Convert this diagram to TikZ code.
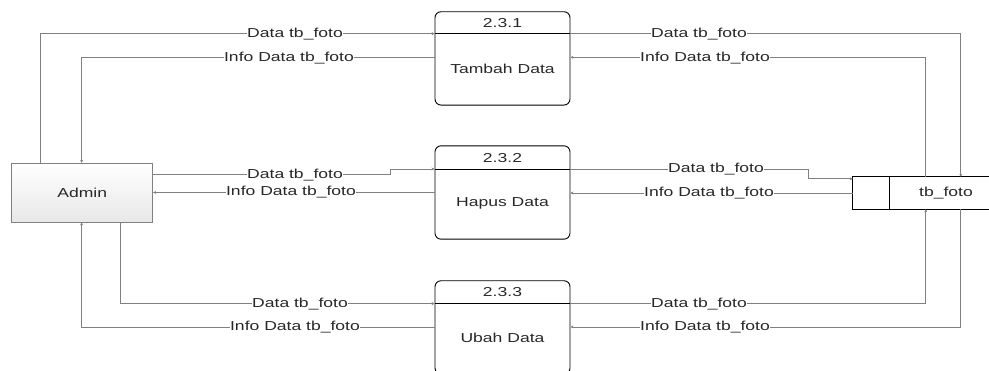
\documentclass[tikz,border=0pt]{standalone}
\usepackage{fontspec}
\setmainfont{Liberation Sans}[FakeStretch=1.35]
\usetikzlibrary{arrows.meta}
\definecolor{linegray}{RGB}{128,128,128}
\definecolor{txtgray}{RGB}{40,40,40}
\tikzset{
  proc/.style={draw=black, line width=0.9pt, rounded corners=6pt, minimum width=135pt, minimum height=93.3pt, inner sep=0pt},
  txt/.style={text=txtgray, font=\fontsize{13}{15}\selectfont, inner sep=0pt},
  lbl/.style={txt, fill=white, inner xsep=0.6pt, inner ysep=1.5pt},
  flow/.style={draw=linegray, line width=0.8pt, -{Stealth[length=3pt,width=3pt]}},
  ent/.style={draw=linegray, line width=0.8pt, top color=white, bottom color=gray!18, minimum width=141pt, minimum height=58.7pt, inner sep=0pt},
}
\begin{document}
\begin{tikzpicture}[x=1pt, y=-1pt]
\useasboundingbox (0,0) rectangle (989,370);
\clip (0,0) rectangle (989,370);

% external entity
\node[ent] (adm) at (82.2,192.6) {};
\node[txt] (admt) at (adm.center) {Admin};

% processes
\node[proc] (p1) at (502.5,58.4) {};
\node[proc] (p2) at (502.5,192.5) {};
\node[proc] (p3) at (502.5,327.4) {};
\draw[line width=0.9pt] ([yshift=-22.3pt]p1.north west) -- ([yshift=-22.3pt]p1.north east);
\draw[line width=0.9pt] ([yshift=-23.6pt]p2.north west) -- ([yshift=-23.6pt]p2.north east);
\draw[line width=0.9pt] ([yshift=-23.3pt]p3.north west) -- ([yshift=-23.3pt]p3.north east);
\node[txt] (p1id) at ([yshift=-11.5pt]p1.north) {2.3.1};
\node[txt] (p2id) at ([yshift=-12.3pt]p2.north) {2.3.2};
\node[txt] (p3id) at ([yshift=-12pt]p3.north) {2.3.3};
\node[txt] (p1n) at ([yshift=-57.5pt]p1.north) {Tambah Data};
\node[txt] (p2n) at ([yshift=-57.5pt]p2.north) {Hapus Data};
\node[txt] (p3n) at ([yshift=-57.5pt]p3.north) {Ubah Data};

% data store
\node[minimum width=150pt, minimum height=32pt, inner sep=0pt] (tb) at (928,193) {};
\draw[line width=0.9pt] (tb.north east) -- (tb.north west) -- (tb.south west) -- (tb.south east);
\draw[line width=0.9pt] ([xshift=36.3pt]tb.north west) -- ([xshift=36.3pt]tb.south west);
\node[txt] (tbt) at (946,193) {tb\_foto};

% top flows
\draw[flow] ([xshift=29.3pt]adm.north west) |- ([yshift=-22.3pt]p1.north west);
\draw[flow] ([yshift=-46pt]p1.north west) -| ([xshift=70.3pt]adm.north west);
\draw[flow] ([yshift=-22.3pt]p1.north east) -| ([xshift=108pt]tb.north west);
\draw[flow] ([xshift=73pt]tb.north west) |- ([yshift=-46pt]p1.north east);

% middle flows
\draw[flow] ([yshift=-11.7pt]adm.north east) -- ++(237.3pt,0pt) |- ([yshift=-23.6pt]p2.north west);
\draw[flow] (p2.west) -- (p2.west -| adm.east);
\draw[flow] ([yshift=-23.6pt]p2.north east) -- ++(238pt,0pt) |- ([yshift=-2pt]tb.north west);
\draw[flow] (tb.west) -- (tb.west -| p2.east);

% bottom flows
\draw[flow] ([xshift=-32.7pt]adm.south east) |- ([yshift=-23.3pt]p3.north west);
\draw[flow] ([yshift=-46.6pt]p3.north west) -| ([xshift=70.3pt]adm.south west);
\draw[flow] ([yshift=-23.3pt]p3.north east) -| ([xshift=73pt]tb.south west);
\draw[flow] ([xshift=108pt]tb.south west) |- ([yshift=-46.6pt]p3.north east);

% labels
\node[lbl] (l1) at (295,34) {Data tb\_foto};
\node[lbl] (l2) at (289,57.7) {Info Data tb\_foto};
\node[lbl] (l3) at (699,34) {Data tb\_foto};
\node[lbl] (l4) at (705,57.7) {Info Data tb\_foto};
\node[lbl] (l5) at (295,175) {Data tb\_foto};
\node[lbl] (l6) at (291,192.5) {Info Data tb\_foto};
\node[lbl] (l7) at (716,169.3) {Data tb\_foto};
\node[lbl] (l8) at (709,193) {Info Data tb\_foto};
\node[lbl] (l9) at (300,304) {Data tb\_foto};
\node[lbl] (l10) at (295,327.3) {Info Data tb\_foto};
\node[lbl] (l11) at (699,304) {Data tb\_foto};
\node[lbl] (l12) at (705,327.3) {Info Data tb\_foto};
\end{tikzpicture}
\end{document}
